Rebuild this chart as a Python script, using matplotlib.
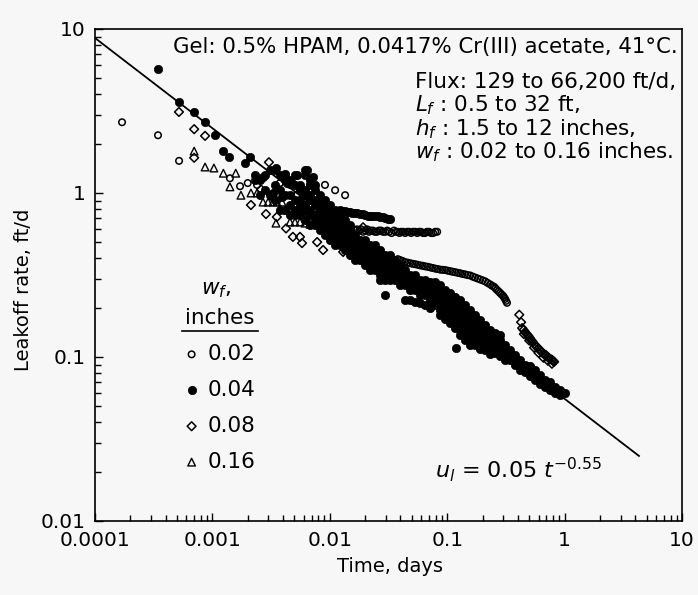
import matplotlib
matplotlib.use('Agg')
import matplotlib.pyplot as plt
import numpy as np
from matplotlib.lines import Line2D
from matplotlib.ticker import LogLocator, NullFormatter

plt.rcParams['font.family'] = ['DejaVu Sans']
plt.rcParams['mathtext.fontset'] = 'dejavusans'

# ---------------- data (time in days, leakoff rate in ft/d) ----------------
# w_f = 0.02 inches (open circles)
pts_002 = [(1.70e-4, 2.7), (3.44e-4, 2.25), (5.2e-4, 1.57),
           (1.41e-3, 1.23), (1.72e-3, 1.10), (2.0e-3, 1.15), (2.40e-3, 1.12), (3.76e-3, 1.15),
           (4.58e-3, 1.12), (5.57e-3, 1.08), (6.78e-3, 1.12), (7.48e-3, 1.12), (9.1e-3, 1.12),
           (0.0111, 1.04), (0.0135, 0.97), (8.25e-3, 0.906), (4.9e-3, 1.14), (5.3e-3, 0.98)]
# plateau near 0.58 ft/d
plateau_t = [0.0161, 0.0166, 0.0171, 0.0178, 0.0185, 0.0192, 0.0200, 0.0208, 0.0216, 0.0224,
             0.0233, 0.0242, 0.0252, 0.0262, 0.0273, 0.0284, 0.0296, 0.0308, 0.0320, 0.0336,
             0.0352, 0.0366, 0.0380, 0.0392, 0.0405, 0.0421, 0.0438, 0.0456, 0.0474, 0.0493,
             0.0512, 0.0533, 0.0555, 0.0576, 0.0598, 0.0622, 0.0647, 0.0673, 0.0700, 0.0730,
             0.0759, 0.0790, 0.0821]
plateau_u = [0.60, 0.59, 0.60, 0.59, 0.60, 0.58, 0.59, 0.60, 0.58, 0.59,
             0.59, 0.58, 0.58, 0.59, 0.59, 0.58, 0.58, 0.59, 0.58, 0.57,
             0.59, 0.58, 0.58, 0.57, 0.58, 0.58, 0.57, 0.58, 0.58, 0.57,
             0.58, 0.58, 0.57, 0.58, 0.58, 0.57, 0.57, 0.58, 0.58, 0.57,
             0.57, 0.58, 0.58]
# upper late curve
upper_t = [0.0380, 0.0397, 0.0417, 0.0438, 0.0460, 0.0483, 0.0508, 0.0533, 0.0560, 0.0587,
           0.0617, 0.0647, 0.0680, 0.0715, 0.0751, 0.0789, 0.0828, 0.0870, 0.0914, 0.0960,
           0.101, 0.106, 0.111, 0.117, 0.123, 0.129, 0.135, 0.142, 0.149, 0.157,
           0.165, 0.173, 0.182, 0.191, 0.201, 0.211, 0.221, 0.232, 0.241, 0.251,
           0.258, 0.266, 0.274, 0.282, 0.290, 0.299, 0.305, 0.311, 0.317, 0.323]
upper_u = [0.395, 0.390, 0.385, 0.379, 0.376, 0.373, 0.370, 0.368, 0.365, 0.362,
           0.360, 0.357, 0.355, 0.352, 0.349, 0.346, 0.344, 0.341, 0.340, 0.339,
           0.336, 0.334, 0.331, 0.329, 0.326, 0.324, 0.321, 0.319, 0.316, 0.314,
           0.309, 0.305, 0.301, 0.297, 0.293, 0.289, 0.283, 0.277, 0.272, 0.268,
           0.262, 0.256, 0.251, 0.246, 0.241, 0.236, 0.231, 0.226, 0.220, 0.214]

# w_f = 0.04 inches (filled circles)
pts_004 = [(3.44e-4, 5.7), (5.19e-4, 3.59), (6.99e-4, 3.12), (8.66e-4, 2.71), (1.05e-3, 2.26),
           (1.23e-3, 1.80), (1.38e-3, 1.66), (1.90e-3, 1.52), (2.09e-3, 1.66), (2.70e-3, 1.25),
           (3.48e-3, 1.42), (4.15e-3, 1.31), (4.32e-3, 1.15), (3.28e-3, 1.0), (3.92e-3, 0.946),
           (5.26e-3, 1.29), (6.40e-3, 1.38), (7.2e-3, 1.25), (0.0296, 0.239),
           (0.12, 0.113), (0.19, 0.112)]
# branch near 0.75 ft/d
branch_t = [0.0122, 0.0128, 0.0135, 0.0142, 0.0149, 0.0156, 0.0164, 0.0172, 0.0181, 0.0190,
            0.0200, 0.0210, 0.0220, 0.0231, 0.0243, 0.0255, 0.0268, 0.0282, 0.0296, 0.0311, 0.0326]
branch_u = [0.787, 0.782, 0.776, 0.770, 0.765, 0.760, 0.755, 0.750, 0.745, 0.740,
            0.734, 0.729, 0.724, 0.724, 0.724, 0.719, 0.714, 0.709, 0.704, 0.699, 0.694]
# main band: (time, [rates observed at that time])
band_004 = [
    (2.31e-3, [1.29, 1.20]), (2.54e-3, [1.20, 0.969]), (2.80e-3, [1.29, 1.04]),
    (3.09e-3, [1.38, 0.969]), (3.41e-3, [1.38, 1.12, 0.906]), (3.76e-3, [1.29, 1.04, 0.787]),
    (4.15e-3, [1.29, 1.20, 0.969, 0.787]), (4.58e-3, [1.20, 0.969, 0.845, 0.734]),
    (5.05e-3, [1.29, 1.12, 0.906, 0.787, 0.734]), (5.57e-3, [1.12, 1.04, 0.906, 0.845, 0.787, 0.734]),
    (6.14e-3, [1.38, 1.29, 1.04, 0.969, 0.845, 0.787, 0.684]),
    (6.78e-3, [1.20, 1.12, 0.969, 0.906, 0.787, 0.734, 0.638]),
    (7.48e-3, [1.12, 1.04, 0.906, 0.845, 0.734, 0.684, 0.638]),
    (8.25e-3, [0.969, 0.906, 0.845, 0.787, 0.734, 0.684, 0.638, 0.594]),
    (9.10e-3, [0.906, 0.845, 0.787, 0.734, 0.684, 0.638, 0.594, 0.554]),
    (0.0100, [0.845, 0.787, 0.734, 0.684, 0.638, 0.594, 0.554, 0.516]),
    (0.0111, [0.787, 0.734, 0.684, 0.638, 0.594, 0.554, 0.516, 0.481]),
    (0.0122, [0.734, 0.684, 0.638, 0.594, 0.554, 0.516, 0.481]),
    (0.0135, [0.684, 0.638, 0.594, 0.554, 0.516, 0.481, 0.449]),
    (0.0149, [0.638, 0.594, 0.554, 0.516, 0.481, 0.449, 0.418]),
    (0.0164, [0.554, 0.516, 0.481, 0.449, 0.418, 0.390]),
    (0.0181, [0.516, 0.481, 0.449, 0.418, 0.390]),
    (0.0200, [0.516, 0.481, 0.449, 0.418, 0.390, 0.364]),
    (0.0220, [0.481, 0.449, 0.418, 0.390, 0.364, 0.339]),
    (0.0243, [0.481, 0.449, 0.418, 0.390, 0.364, 0.339]),
    (0.0268, [0.449, 0.418, 0.390, 0.364, 0.339, 0.316, 0.295]),
    (0.0296, [0.418, 0.390, 0.364, 0.339, 0.316, 0.295]),
    (0.0326, [0.418, 0.390, 0.364, 0.339, 0.316, 0.295]),
    (0.0360, [0.390, 0.364, 0.339, 0.316, 0.295]),
    (0.0397, [0.364, 0.339, 0.316, 0.295, 0.275]),
    (0.0438, [0.339, 0.316, 0.295, 0.275, 0.223]),
    (0.0483, [0.316, 0.295, 0.275, 0.256, 0.223]),
    (0.0533, [0.316, 0.295, 0.275, 0.256, 0.216]),
    (0.0587, [0.295, 0.275, 0.256, 0.239, 0.212]),
    (0.0647, [0.295, 0.275, 0.256, 0.239, 0.208]),
    (0.0715, [0.285, 0.265, 0.250, 0.232, 0.223, 0.198]),
    (0.0789, [0.285, 0.265, 0.250, 0.239, 0.223, 0.208]),
    (0.0870, [0.275, 0.256, 0.239, 0.223, 0.208, 0.194, 0.181]),
    (0.0960, [0.256, 0.239, 0.223, 0.208, 0.194, 0.181, 0.170]),
    (0.106, [0.245, 0.228, 0.213, 0.200, 0.186, 0.173, 0.162]),
    (0.117, [0.232, 0.216, 0.200, 0.186, 0.173, 0.160, 0.150]),
    (0.129, [0.223, 0.208, 0.194, 0.181, 0.168, 0.157, 0.146, 0.136]),
    (0.142, [0.208, 0.194, 0.181, 0.168, 0.157, 0.146, 0.136, 0.127]),
    (0.157, [0.194, 0.181, 0.168, 0.157, 0.146, 0.136, 0.127, 0.119]),
    (0.173, [0.181, 0.168, 0.157, 0.146, 0.136, 0.127, 0.119]),
    (0.191, [0.168, 0.157, 0.146, 0.136, 0.127, 0.119, 0.114]),
    (0.211, [0.157, 0.146, 0.136, 0.127, 0.119, 0.110]),
    (0.232, [0.146, 0.136, 0.127, 0.119, 0.110, 0.105]),
    (0.256, [0.140, 0.131, 0.122, 0.114, 0.106]),
    (0.282, [0.136, 0.127, 0.119, 0.110, 0.101]),
    (0.311, [0.119, 0.110, 0.103, 0.096]),
    (0.344, [0.110, 0.103, 0.096]),
    (0.379, [0.103, 0.096, 0.0896]),
    (0.418, [0.096, 0.0896, 0.0834]),
    (0.461, [0.0896, 0.0834, 0.081]),
    (0.509, [0.088, 0.0820, 0.0767]),
    (0.561, [0.0834, 0.0778, 0.0724]),
    (0.619, [0.0778, 0.0724, 0.0685]),
    (0.683, [0.0724, 0.0685, 0.0655]),
    (0.753, [0.070, 0.0629]),
    (0.831, [0.066, 0.0605]),
    (0.917, [0.0629, 0.0587]),
    (1.01, [0.0605])]

# w_f = 0.08 inches (open diamonds)
pts_008 = [(5.19e-4, 3.12), (6.99e-4, 2.45), (8.66e-4, 2.23), (6.99e-4, 1.64), (3.03e-3, 1.54),
           (2.13e-3, 0.845), (2.86e-3, 0.744), (3.54e-3, 0.714), (4.24e-3, 0.608), (4.85e-3, 0.540),
           (5.57e-3, 0.540), (5.80e-3, 0.495), (7.80e-3, 0.502), (8.77e-3, 0.449), (0.0130, 0.437),
           (0.0171, 0.449), (0.0192, 0.618), (2.6e-3, 1.05), (3.3e-3, 0.93),
           (0.411, 0.181), (0.426, 0.163),
           (0.45, 0.138), (0.50, 0.126), (0.55, 0.114), (0.60, 0.106), (0.66, 0.099),
           (0.72, 0.095), (0.78, 0.091)]
streak_t = [0.435, 0.448, 0.461, 0.475, 0.490, 0.504, 0.519, 0.534, 0.550, 0.567, 0.584, 0.601,
            0.619, 0.638, 0.657, 0.677, 0.697, 0.718, 0.739, 0.761, 0.784, 0.800, 0.814]
streak_u = [0.150, 0.146, 0.142, 0.138, 0.135, 0.131, 0.127, 0.124, 0.120, 0.117, 0.115, 0.112,
            0.110, 0.107, 0.105, 0.1035, 0.1025, 0.100, 0.0983, 0.097, 0.096, 0.0945, 0.0934]

# w_f = 0.16 inches (open triangles)
pts_016 = [(6.99e-4, 1.80), (8.66e-4, 1.44), (1.03e-3, 1.42), (1.24e-3, 1.32), (1.58e-3, 1.32),
           (1.41e-3, 1.09), (1.75e-3, 0.969), (2.13e-3, 1.0), (2.40e-3, 1.0), (2.70e-3, 0.88),
           (2.98e-3, 0.88), (3.28e-3, 0.88), (3.54e-3, 0.88), (3.92e-3, 0.88), (4.32e-3, 0.787),
           (4.76e-3, 0.787), (5.26e-3, 0.787), (5.80e-3, 0.776), (6.40e-3, 0.765), (7.06e-3, 0.765),
           (7.80e-3, 0.765), (8.60e-3, 0.755), (9.5e-3, 0.755), (3.48e-3, 0.655), (4.58e-3, 0.665),
           (5.05e-3, 0.665), (5.57e-3, 0.665), (6.14e-3, 0.655), (6.78e-3, 0.645)]

fit_coef = 0.0556       # drawn correlation line (labelled u_l = 0.05 t^-0.55)
fit_exp = -0.55
fit_t_range = (1e-4, 4.3)

x_ticks = [1e-4, 1e-3, 1e-2, 1e-1, 1, 10]
x_tick_labels = ['0.0001', '0.001', '0.01', '0.1', '1', '10']
y_ticks = [0.01, 0.1, 1, 10]
y_tick_labels = ['0.01', '0.1', '1', '10']
legend_labels = ['0.02', '0.04', '0.08', '0.16']

# ---------------- assemble series ----------------
t02 = [p[0] for p in pts_002] + plateau_t + upper_t
u02 = [p[1] for p in pts_002] + plateau_u + upper_u
t04 = [p[0] for p in pts_004] + branch_t + [t for t, us in band_004 for _ in us]
u04 = [p[1] for p in pts_004] + branch_u + [u for _, us in band_004 for u in us]
t08 = [p[0] for p in pts_008] + streak_t
u08 = [p[1] for p in pts_008] + streak_u
t16 = [p[0] for p in pts_016]
u16 = [p[1] for p in pts_016]

# ---------------- figure ----------------
bg = '#f7f7f7'
W, H = 698, 595
fig = plt.figure(figsize=(W / 100, H / 100), dpi=100, facecolor=bg)
ax = fig.add_axes([95 / W, 1 - 521 / H, (682 - 95) / W, (521 - 29) / H])
ax.set_facecolor(bg)
ax.set_xscale('log')
ax.set_yscale('log')
ax.set_xlim(1e-4, 10)
ax.set_ylim(0.01, 10)

t_fit = np.logspace(np.log10(fit_t_range[0]), np.log10(fit_t_range[1]), 50)
ax.plot(t_fit, fit_coef * t_fit ** fit_exp, color='black', lw=1.3, zorder=1)

h04 = ax.scatter(t04, u04, s=36, marker='o', facecolors='black', edgecolors='black', linewidths=0.5, zorder=2)
h02 = ax.scatter(t02, u02, s=22, marker='o', facecolors='none', edgecolors='black', linewidths=1.1, zorder=3)
h08 = ax.scatter(t08, u08, s=20, marker='D', facecolors='none', edgecolors='black', linewidths=1.1, zorder=3)
h16 = ax.scatter(t16, u16, s=30, marker='^', facecolors='none', edgecolors='black', linewidths=1.0, zorder=3)

ax.set_xticks(x_ticks)
ax.set_xticklabels(x_tick_labels)
ax.set_yticks(y_ticks)
ax.set_yticklabels(y_tick_labels)
ax.xaxis.set_minor_locator(LogLocator(base=10, subs=np.arange(2, 10)))
ax.yaxis.set_minor_locator(LogLocator(base=10, subs=np.arange(2, 10)))
ax.xaxis.set_minor_formatter(NullFormatter())
ax.yaxis.set_minor_formatter(NullFormatter())
ax.tick_params(which='both', direction='in', top=False, right=False, width=1.0, labelsize=14.5)
ax.tick_params(which='major', length=6)
ax.tick_params(which='minor', length=4)
ax.tick_params(axis='y', pad=7)
ax.tick_params(axis='x', pad=7)
for sp in ax.spines.values():
    sp.set_linewidth(1.2)

fig.text(390 / W, 1 - 566 / H, 'Time, days', ha='center', va='center', fontsize=14)
fig.text(24 / W, 1 - 290 / H, 'Leakoff rate, ft/d', ha='center', va='center', fontsize=14, rotation=90)

fig.text(678 / W, 1 - 47 / H, 'Gel: 0.5% HPAM, 0.0417% Cr(III) acetate, 41°C.',
         ha='right', va='center', fontsize=15.3)
flux_lines = ['Flux: 129 to 66,200 ft/d,', '$L_f$ : 0.5 to 32 ft,',
              '$h_f$ : 1.5 to 12 inches,', '$w_f$ : 0.02 to 0.16 inches.']
for i, s in enumerate(flux_lines):
    fig.text(415 / W, 1 - (82 + i * 23.5) / H, s, ha='left', va='center', fontsize=15.5)

fig.text(435 / W, 1 - 470 / H, r'$u_l$ = 0.05 $t^{-0.55}$', ha='left', va='center', fontsize=16)

# legend
fig.text(216 / W, 1 - 290 / H, '$w_f$,', ha='center', va='center', fontsize=15.5)
fig.text(220 / W, 1 - 318 / H, 'inches', ha='center', va='center', fontsize=15.5)
fig.add_artist(Line2D([182 / W, 258 / W], [1 - 331 / H, 1 - 331 / H], color='black', lw=1.2))
ax.legend([h02, h04, h08, h16], legend_labels, loc='upper left',
          bbox_to_anchor=(183 / W, 1 - 344 / H), bbox_transform=fig.transFigure,
          frameon=False, fontsize=15.5, handlelength=0.8, handletextpad=0.35,
          borderpad=0, borderaxespad=0, labelspacing=0.74)

fig.savefig('out.png', dpi=100, facecolor=bg)
